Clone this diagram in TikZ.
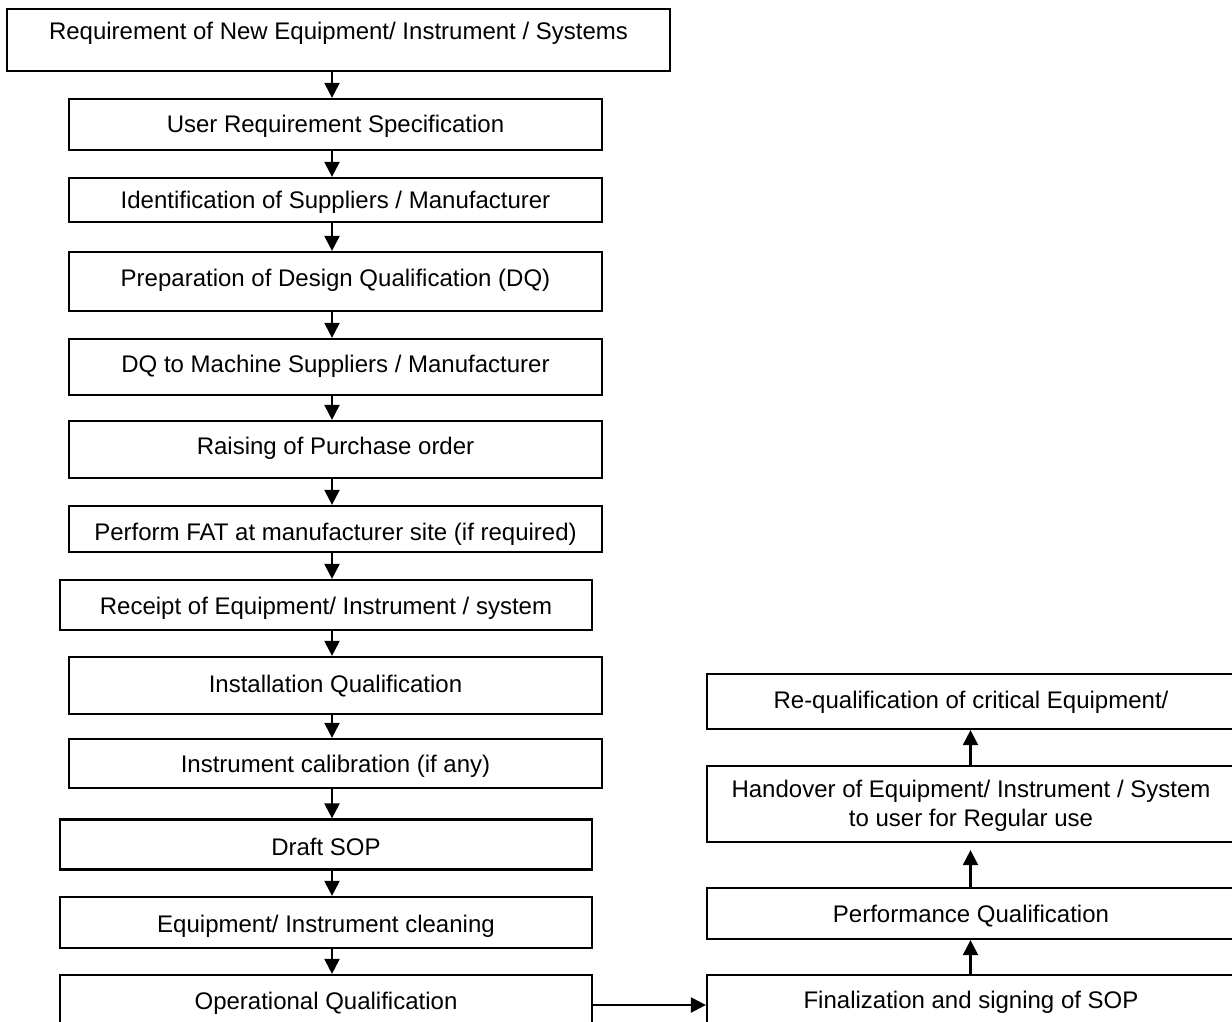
\documentclass[tikz,border=0pt]{standalone}
\usepackage{fontspec}
\setmainfont{Liberation Sans}
\usetikzlibrary{arrows.meta}
\begin{document}
\begin{tikzpicture}[x=1pt,y=-1pt,
  stepbox/.style={draw=black, line width=2.2pt, rectangle, inner sep=0pt},
  lbl/.style={inner sep=0pt, anchor=base, align=center,
    font=\fontsize{24pt}{28.5pt}\selectfont},
  arr/.style={line width=2.2pt, -{Triangle[length=15pt,width=15pt]}}]
\clip (0,0) rectangle (1232,1022);
\fill[white] (0,0) rectangle (1232,1022);
% left column boxes
\node[stepbox, minimum width=663pt, minimum height=62pt] (b1) at (338.5,40) {};
\node[stepbox, minimum width=533pt, minimum height=51pt] (b2) at (335.5,124.5) {};
\node[stepbox, minimum width=533pt, minimum height=44pt] (b3) at (335.5,200) {};
\node[stepbox, minimum width=533pt, minimum height=59pt] (b4) at (335.5,281.5) {};
\node[stepbox, minimum width=533pt, minimum height=56pt] (b5) at (335.5,367) {};
\node[stepbox, minimum width=533pt, minimum height=57pt] (b6) at (335.5,449.5) {};
\node[stepbox, minimum width=533pt, minimum height=46pt] (b7) at (335.5,529) {};
\node[stepbox, minimum width=532pt, minimum height=50pt] (b8) at (326,605) {};
\node[stepbox, minimum width=533pt, minimum height=57pt] (b9) at (335.5,685.5) {};
\node[stepbox, minimum width=533pt, minimum height=49pt] (b10) at (335.5,763.5) {};
\node[stepbox, minimum width=532pt, minimum height=50pt] (b11) at (326,844.5) {};
\node[stepbox, minimum width=532pt, minimum height=51pt] (b12) at (326,922.5) {};
\node[stepbox, minimum width=532pt, minimum height=60pt] (b13) at (326,1005) {};
% right column boxes
\node[stepbox, minimum width=530pt, minimum height=55pt] (r1) at (972,701.5) {};
\node[stepbox, minimum width=530pt, minimum height=76pt] (r2) at (972,804) {};
\node[stepbox, minimum width=530pt, minimum height=51pt] (r3) at (972,913.5) {};
\node[stepbox, minimum width=530pt, minimum height=60pt] (r4) at (972,1005) {};
% texts
\node[lbl] (t1) at (338.5,40) {Requirement of New Equipment/ Instrument / Systems};
\node[lbl] (t2) at (335.5,133) {User Requirement Specification};
\node[lbl] (t3) at (335.5,208) {Identification of Suppliers / Manufacturer};
\node[lbl] (t4) at (335.5,286) {Preparation of Design Qualification (DQ)};
\node[lbl] (t5) at (335.5,372) {DQ to Machine Suppliers / Manufacturer};
\node[lbl] (t6) at (335.5,454) {Raising of Purchase order};
\node[lbl] (t7) at (335.5,540) {Perform FAT at manufacturer site (if required)};
\node[lbl] (t8) at (326,614) {Receipt of Equipment/ Instrument / system};
\node[lbl] (t9) at (335.5,692) {Installation Qualification};
\node[lbl] (t10) at (335.5,772) {Instrument calibration (if any)};
\node[lbl] (t11) at (326,855) {Draft SOP};
\node[lbl] (t12) at (326,932) {Equipment/ Instrument cleaning};
\node[lbl] (t13) at (326,1009) {Operational Qualification};
\node[lbl] (tr1) at (971,708) {Re-qualification of critical Equipment/};
\node[lbl] (tr2) at (971,826) {Handover of Equipment/ Instrument / System\\to user for Regular use};
\node[lbl] (tr3) at (971,922) {Performance Qualification};
\node[lbl] (tr4) at (971,1008) {Finalization and signing of SOP};
% connectors
\coordinate (ax) at (332,0);
\coordinate (rx) at (970.5,0);
\coordinate (hy) at (0,1005);
\foreach \a/\b in {b1/b2,b2/b3,b3/b4,b4/b5,b5/b6,b6/b7,b7/b8,b8/b9,b9/b10,b10/b11,b11/b12,b12/b13}
  \draw[arr] (\a.south -| ax) -- (\b.north -| ax);
\draw[arr] (b13.east |- hy) -- (r4.west |- hy);
\draw[arr] (r4.north -| rx) -- (r3.south -| rx);
\draw[arr] (r3.north -| rx) -- ([yshift=-7pt]r2.south -| rx);
\draw[arr] (r2.north -| rx) -- (r1.south -| rx);
\end{tikzpicture}
\end{document}
